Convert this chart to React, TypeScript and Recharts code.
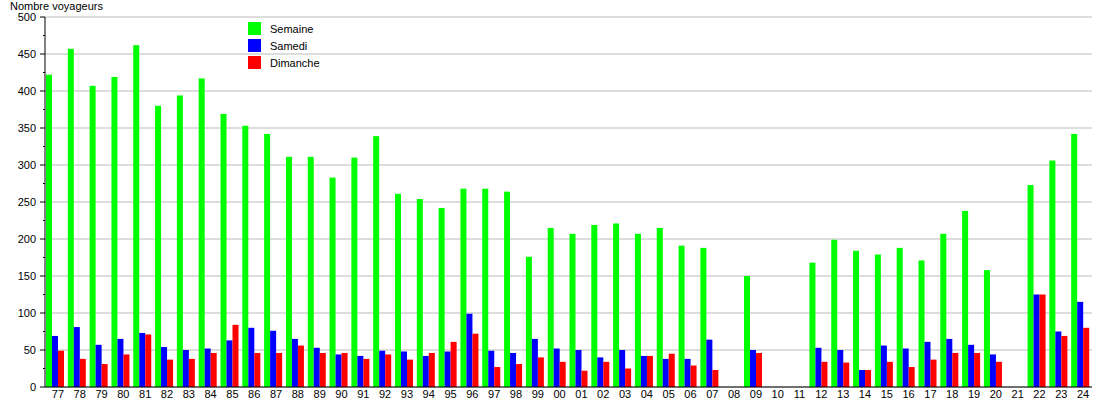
import React from "react";
import { BarChart, Bar, XAxis, YAxis, CartesianGrid } from "recharts";

const years = [
  "77", "78", "79", "80", "81", "82", "83", "84", "85", "86", "87", "88",
  "89", "90", "91", "92", "93", "94", "95", "96", "97", "98", "99", "00",
  "01", "02", "03", "04", "05", "06", "07", "08", "09", "10", "11", "12",
  "13", "14", "15", "16", "17", "18", "19", "20", "21", "22", "23", "24",
];

const semaine = [
  422, 457, 407, 419, 462, 380, 394, 417, 369, 353, 342, 311,
  311, 283, 310, 339, 261, 254, 242, 268, 268, 264, 176, 215,
  207, 219, 221, 207, 215, 191, 188, null, 150, null, null, 168,
  199, 184, 179, 188, 171, 207, 238, 158, null, 273, 306, 342,
];

const samedi = [
  69, 81, 57, 65, 73, 54, 50, 52, 63, 80, 76, 65,
  53, 44, 42, 49, 48, 42, 48, 99, 49, 46, 65, 52,
  50, 40, 50, 42, 38, 38, 64, null, 50, null, null, 53,
  50, 23, 56, 52, 61, 65, 57, 44, null, 125, 75, 115,
];

const dimanche = [
  49, 38, 31, 44, 71, 37, 38, 46, 84, 46, 46, 56,
  46, 46, 38, 44, 37, 46, 61, 72, 27, 31, 40, 34,
  22, 34, 25, 42, 45, 29, 23, null, 46, null, null, 34,
  33, 23, 34, 27, 37, 46, 46, 34, null, 125, 69, 80,
];

const yTicks = [
  0, 25, 50, 75, 100, 125, 150, 175, 200, 225, 250, 275, 300, 325, 350,
  375, 400, 425, 450, 475, 500,
];
const gridValues = [0, 50, 100, 150, 200, 250, 300, 350, 400, 450, 500];

const series = [
  { key: "semaine", name: "Semaine", color: "#00ff00" },
  { key: "samedi", name: "Samedi", color: "#0000ff" },
  { key: "dimanche", name: "Dimanche", color: "#ff0000" },
];

const data = years.map((year, i) => ({
  year,
  semaine: semaine[i],
  samedi: samedi[i],
  dimanche: dimanche[i],
}));

const FONT = "'Liberation Sans', Arial, sans-serif";

// bars sit a little left of centre in the original
function LeftBar(props: any) {
  const { x, y, width, height, fill } = props;
  if (!height || height <= 0) return null;
  return <rect x={x - 1.6} y={y} width={width} height={height} fill={fill} />;
}

function YTick(props: any) {
  const { x, y, payload } = props;
  const major = payload.value % 50 === 0;
  return (
    <g>
      <line x1={x - (major ? 5 : 2)} x2={x} y1={y} y2={y} stroke="#000" />
      {major && (
        <text
          x={x - 9}
          y={y}
          dy="0.35em"
          textAnchor="end"
          fontSize={11}
          fontFamily={FONT}
          fill="#000"
        >
          {payload.value}
        </text>
      )}
    </g>
  );
}

function LegendBox() {
  return (
    <div
      style={{
        position: "absolute",
        left: 248,
        top: 20,
        fontFamily: FONT,
        fontSize: 11,
        color: "#000",
      }}
    >
      {series.map((s) => (
        <div
          key={s.key}
          style={{ display: "flex", alignItems: "center", height: 17 }}
        >
          <span
            style={{
              display: "inline-block",
              width: 13,
              height: 13,
              background: s.color,
              marginRight: 9,
            }}
          />
          <span>{s.name}</span>
        </div>
      ))}
    </div>
  );
}

export default function App() {
  return (
    <div
      style={{
        position: "absolute",
        left: 0,
        top: 0,
        width: 1110,
        height: 400,
        background: "#fff",
      }}
    >
      <BarChart
        width={1110}
        height={400}
        data={data}
        margin={{ top: 17, right: 18, bottom: 0, left: 0 }}
        barGap={0}
        barCategoryGap={2.6}
      >
        <CartesianGrid
          vertical={false}
          stroke="#bbbbbb"
          horizontalValues={gridValues}
        />
        <XAxis
          dataKey="year"
          height={13}
          tickLine={false}
          tickSize={0}
          tickMargin={3}
          interval={0}
          axisLine={{ stroke: "#000" }}
          tick={{ fontSize: 11, fontFamily: FONT, fill: "#000", dx: 2 }}
        />
        <YAxis
          width={45}
          domain={[0, 500]}
          ticks={yTicks}
          interval={0}
          tickLine={false}
          tickSize={0}
          tickMargin={0}
          axisLine={{ stroke: "#000" }}
          tick={<YTick />}
        />
        {series.map((s) => (
          <Bar
            key={s.key}
            dataKey={s.key}
            name={s.name}
            fill={s.color}
            shape={<LeftBar />}
            isAnimationActive={false}
          />
        ))}
      </BarChart>
      <div
        style={{
          position: "absolute",
          left: 10,
          top: 0,
          fontFamily: FONT,
          fontSize: 11,
          color: "#000",
        }}
      >
        Nombre voyageurs
      </div>
      <LegendBox />
    </div>
  );
}
